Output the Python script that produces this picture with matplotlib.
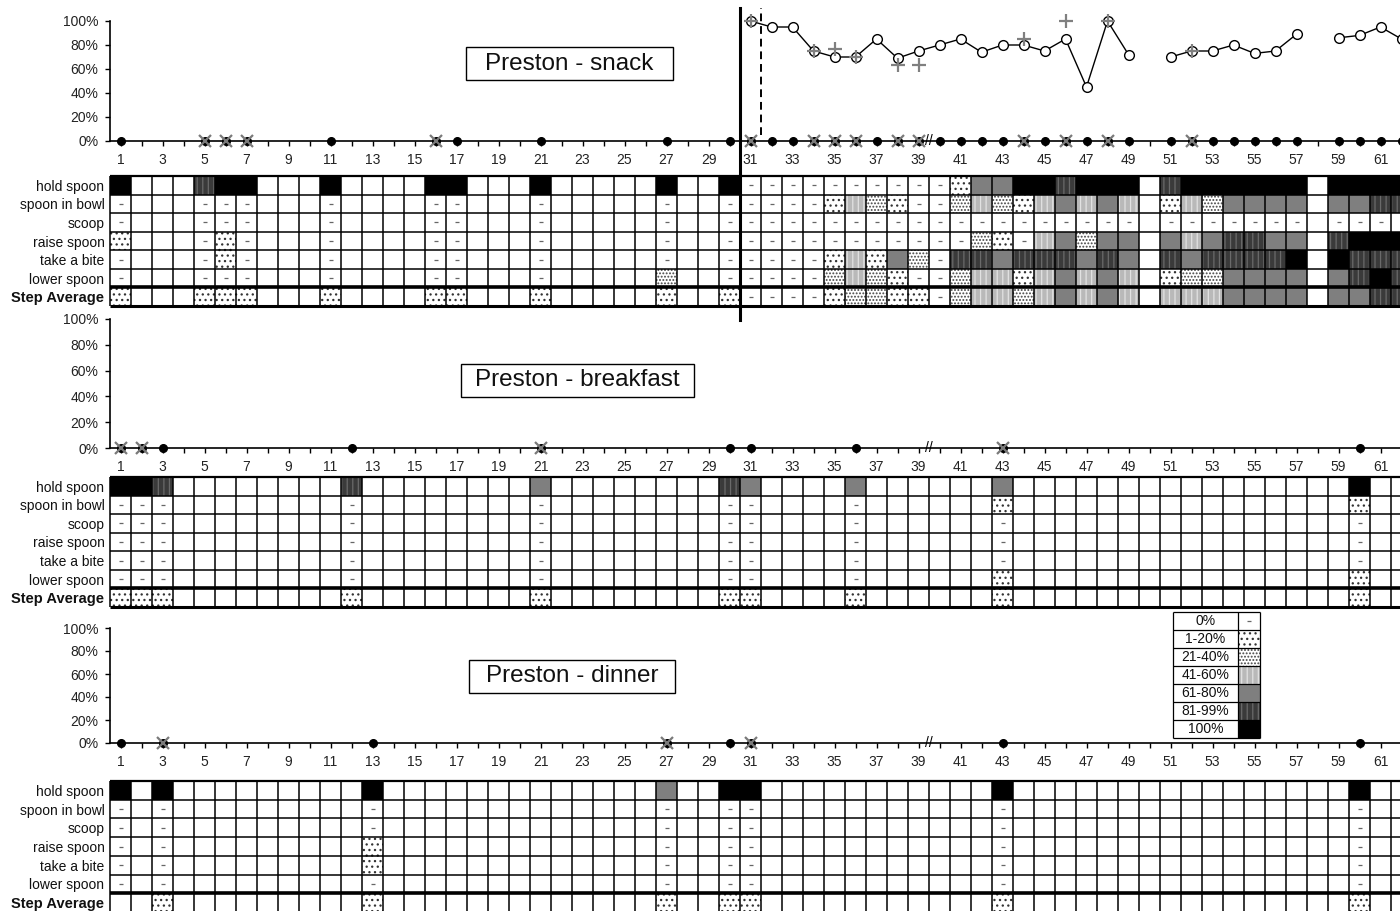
import numpy as np
import matplotlib
matplotlib.use("Agg")
import matplotlib.pyplot as plt
from matplotlib.patches import Rectangle

plt.rcParams['font.family'] = ['Liberation Sans', 'DejaVu Sans']
plt.rcParams['hatch.linewidth'] = 0.9

# ---------------- data ----------------
sessions = np.arange(1, 63)
row_labels = ['hold spoon', 'spoon in bowl', 'scoop', 'raise spoon',
              'take a bite', 'lower spoon', 'Step Average']
legend_labels = ['0%', '1-20%', '21-40%', '41-60%', '61-80%', '81-99%', '100%']
xtick_labels = list(range(1, 62, 2))
ytick_values = [0, 20, 40, 60, 80, 100]

# codes per session 1..62: 0 none, 1 "0%", 2 "1-20%", 3 "21-40%",
# 4 "41-60%", 5 "61-80%", 6 "81-99%", 7 "100%"
snack_hold  = "7000677000" "7000077000" "7000007007" "1111111111" "2557767770" "677777707777"
snack_bowl  = "1000111000" "1000011000" "1000001001" "1111243211" "3432454540" "243555505566"
snack_scoop = "1000111000" "1000011000" "1000001001" "1111111111" "1111111110" "111111101111"
snack_raise = "2000121000" "1000011000" "1000001001" "1111111111" "1321453550" "545665506777"
snack_bite  = "1000121000" "1000011000" "1000001001" "1111242531" "6656665650" "656666707666"
snack_lower = "1000111000" "1000011000" "1000003001" "1111343211" "3442454540" "233555505676"
snack_avg   = "2000222000" "2000022000" "2000002002" "1111233221" "3443454540" "444555505566"

bf_hold  = "7760000000" "0600000000" "5000000006" "5000050000" "0050000000" "000000000700"
bf_bowl  = "1110000000" "0100000000" "1000000001" "1000010000" "0020000000" "000000000200"
bf_scoop = "1110000000" "0100000000" "1000000001" "1000010000" "0010000000" "000000000100"
bf_raise = "1110000000" "0100000000" "1000000001" "1000010000" "0010000000" "000000000100"
bf_bite  = "1110000000" "0100000000" "1000000001" "1000010000" "0010000000" "000000000100"
bf_lower = "1110000000" "0100000000" "1000000001" "1000010000" "0020000000" "000000000200"
bf_avg   = "2220000000" "0200000000" "2000000002" "2000020000" "0020000000" "000000000200"

dn_hold  = "7070000000" "0070000000" "0000005007" "7000000000" "0070000000" "000000000700"
dn_bowl  = "1010000000" "0010000000" "0000001001" "1000000000" "0010000000" "000000000100"
dn_scoop = "1010000000" "0010000000" "0000001001" "1000000000" "0010000000" "000000000100"
dn_raise = "1010000000" "0020000000" "0000001001" "1000000000" "0010000000" "000000000100"
dn_bite  = "1010000000" "0020000000" "0000001001" "1000000000" "0010000000" "000000000100"
dn_lower = "1010000000" "0010000000" "0000001001" "1000000000" "0010000000" "000000000100"
dn_avg   = "0020000000" "0020000000" "0000002002" "2000000000" "0020000000" "000000000200"

# line chart series
snack_zero_sessions = [1, 5, 6, 7, 11, 16, 17, 21, 27, 30, 31, 32, 33, 34, 35, 36, 37, 38, 39, 40,
                       41, 42, 43, 44, 45, 46, 47, 48, 49, 51, 52, 53, 54, 55, 56, 57, 59, 60, 61, 62]
snack_zero_pct = [0, 0, 0, 0, 0, 0, 0, 0, 0, 0, 0, 0, 0, 0, 0, 0, 0, 0, 0, 0,
                  0, 0, 0, 0, 0, 0, 0, 0, 0, 0, 0, 0, 0, 0, 0, 0, 0, 0, 0, 0]
snack_ioa_zero_sessions = [5, 6, 7, 16, 31, 34, 35, 36, 38, 39, 44, 46, 48, 52]
snack_ioa_zero_pct = [0, 0, 0, 0, 0, 0, 0, 0, 0, 0, 0, 0, 0, 0]
snack_pct_sessions = list(range(31, 63))
snack_pct = [100, 95, 95, 75, 70, 70, 85, 69, 75, 80,
             85, 74, 80, 80, 75, 85, 45, 100, 72, np.nan,
             70, 75, 75, 80, 73, 75, 89, np.nan, 86, 88, 95, 85]
snack_ioa_sessions = [31, 34, 35, 36, 38, 39, 44, 46, 48, 52]
snack_ioa_pct = [100, 75, 77, 70, 63, 63, 85, 100, 100, 75]

bf_zero_sessions = [1, 2, 3, 12, 21, 30, 31, 36, 43, 60]
bf_zero_pct = [0, 0, 0, 0, 0, 0, 0, 0, 0, 0]
bf_ioa_sessions = [1, 2, 21, 43]
bf_ioa_pct = [0, 0, 0, 0]

dn_zero_sessions = [1, 3, 13, 27, 30, 31, 43, 60]
dn_zero_pct = [0, 0, 0, 0, 0, 0, 0, 0]
dn_ioa_sessions = [3, 27, 31]
dn_ioa_pct = [0, 0, 0]

# ---------------- figure ----------------
W, H = 1400, 911
fig = plt.figure(figsize=(W / 100, H / 100), dpi=100)


def px_axes(l, t, r, b, z=1):
    ax = fig.add_axes([l / W, 1 - b / H, (r - l) / W, (b - t) / H], zorder=z)
    ax.patch.set_visible(False)
    return ax


STYLE = {
    1: dict(fc='white', hatch=None, hc='white'),
    2: dict(fc='white', hatch='...', hc='#333333'),
    3: dict(fc='white', hatch='.....', hc='#444444'),
    4: dict(fc='#b9b9b9', hatch='|||', hc='#e2e2e2'),
    5: dict(fc='#7f7f7f', hatch=None, hc='#7f7f7f'),
    6: dict(fc='#3a3a3a', hatch='|||', hc='#6a6a6a'),
    7: dict(fc='black', hatch=None, hc='black'),
}


def cell_bars(ax, xs, bottoms, code, width=1.0):
    st = STYLE[code]
    ax.bar(xs, 1.0, bottom=bottoms, width=width, align='center',
           color=st['fc'], edgecolor=st['hc'], hatch=st['hatch'],
           linewidth=0, zorder=1)
    if code == 1:
        # small dash mark in the centre of each "0%" cell
        ax.plot(xs, np.asarray(bottoms) + 0.5, linestyle='none', marker='_',
                ms=2.6, mew=0.9, color='#666666', zorder=2)


def draw_grid(top, bottom, rows):
    ax = px_axes(110, top, 1412, bottom, z=2)
    ax.set_xlim(0.5, 62.5)
    ax.set_ylim(7, 0)
    for r, codes in enumerate(rows):
        vals = np.array([int(ch) for ch in codes])
        for c in range(1, 8):
            xs = sessions[vals == c]
            if len(xs):
                cell_bars(ax, xs, np.full(len(xs), r), c)
    ax.vlines(np.arange(0.5, 63.0, 1.0), 0, 7, colors='black', lw=1.1, zorder=3, clip_on=False)
    ax.hlines([1, 2, 3, 4, 5], 0.5, 62.5, colors='black', lw=1.1, zorder=3)
    ax.hlines([0], 0.5, 62.5, colors='black', lw=1.6, zorder=3, clip_on=False)
    ax.hlines([6], 0.5, 62.5, colors='black', lw=2.6, zorder=3)
    ax.hlines([7], 0.5, 62.5, colors='black', lw=2.2, zorder=3, clip_on=False)
    for s in ax.spines.values():
        s.set_visible(False)
    ax.set_xticks([])
    ax.set_yticks(np.arange(7) + 0.5)
    ax.set_yticklabels(row_labels, fontsize=10, color='#111111')
    ax.get_yticklabels()[-1].set_fontweight('bold')
    ax.get_yticklabels()[-1].set_fontsize(10.5)
    ax.tick_params(axis='y', length=0, pad=4)
    return ax


def draw_line_panel(top, bottom, zs, zv, isess, iv):
    ax = px_axes(110, top, 1412, bottom, z=3)
    ax.set_xlim(0.5, 62.5)
    ax.set_ylim(0, 100)
    ax.spines[['top', 'right']].set_visible(False)
    ax.spines[['left', 'bottom']].set_linewidth(1.2)
    ax.set_xticks(xtick_labels)
    ax.set_xticklabels([str(v) for v in xtick_labels])
    ax.set_xticks(sessions, minor=True)
    ax.set_yticks(ytick_values)
    ax.set_yticklabels([f'{v}%' for v in ytick_values])
    ax.tick_params(axis='both', which='both', direction='out', length=3.5,
                   width=1, labelsize=10, pad=5, labelcolor='#222222')
    ax.plot(zs, zv, 'o', ms=5.5, color='black', clip_on=False, zorder=5)
    ax.plot(isess, iv, 'x', ms=8.5, mew=1.6, color='#7a7a7a', clip_on=False, zorder=6)
    ax.text(39.5, 0, '//', ha='center', va='center', fontsize=10, color='black', zorder=7)
    return ax


def title_box(l, t, r, b, text):
    fig.add_artist(Rectangle((l / W, 1 - b / H), (r - l) / W, (b - t) / H,
                             transform=fig.transFigure, facecolor='white',
                             edgecolor='black', lw=1.0, zorder=10))
    fig.text((l + r) / 2 / W, 1 - (t + b) / 2 / H, text, ha='center', va='center',
             fontsize=17.5, color='#111111', zorder=11)


# snack
ax_s = draw_line_panel(21, 141, snack_zero_sessions, snack_zero_pct,
                       snack_ioa_zero_sessions, snack_ioa_zero_pct)
ax_s.plot(snack_pct_sessions, snack_pct, '-o', color='black', lw=1.0, ms=7,
          mfc='white', mec='black', mew=1.0, clip_on=False, zorder=5)
ax_s.plot(snack_ioa_sessions, snack_ioa_pct, '+', ms=10, mew=1.6, color='#808080',
          clip_on=False, zorder=6)
ax_s.axvline(30.5, ymin=(141 - 320) / 120, ymax=(141 - 8) / 120, color='black',
             lw=2.2, clip_on=False, zorder=8)
ax_s.axvline(31.5, ymin=0.05, ymax=(141 - 8) / 120, color='black', lw=1.4,
             ls=(0, (4, 2.5)), clip_on=False, zorder=8)
draw_grid(176, 306, [snack_hold, snack_bowl, snack_scoop, snack_raise,
                     snack_bite, snack_lower, snack_avg])
title_box(466, 47, 673, 80, 'Preston - snack')

# breakfast
draw_line_panel(319, 448, bf_zero_sessions, bf_zero_pct, bf_ioa_sessions, bf_ioa_pct)
draw_grid(477, 607, [bf_hold, bf_bowl, bf_scoop, bf_raise, bf_bite, bf_lower, bf_avg])
title_box(461, 364, 694, 397, 'Preston - breakfast')

# dinner
draw_line_panel(628, 743, dn_zero_sessions, dn_zero_pct, dn_ioa_sessions, dn_ioa_pct)
draw_grid(781, 912, [dn_hold, dn_bowl, dn_scoop, dn_raise, dn_bite, dn_lower, dn_avg])
title_box(469, 660, 675, 693, 'Preston - dinner')

# legend table
ax_l = px_axes(1173, 612, 1260, 738, z=12)
ax_l.patch.set_visible(True)
ax_l.patch.set_facecolor('white')
ax_l.set_xlim(0, 87)
ax_l.set_ylim(7, 0)
for i, lab in enumerate(legend_labels):
    cell_bars(ax_l, [76], [i], i + 1, width=22)
    ax_l.text(32.5, i + 0.5, lab, ha='center', va='center', fontsize=10, color='#111111')
ax_l.hlines(np.arange(0, 8), 0, 87, colors='black', lw=0.9, clip_on=False, zorder=3)
ax_l.vlines([0, 65, 87], 0, 7, colors='black', lw=0.9, clip_on=False, zorder=3)
for s in ax_l.spines.values():
    s.set_visible(False)
ax_l.set_xticks([])
ax_l.set_yticks([])

fig.savefig('out.png', dpi=100)
